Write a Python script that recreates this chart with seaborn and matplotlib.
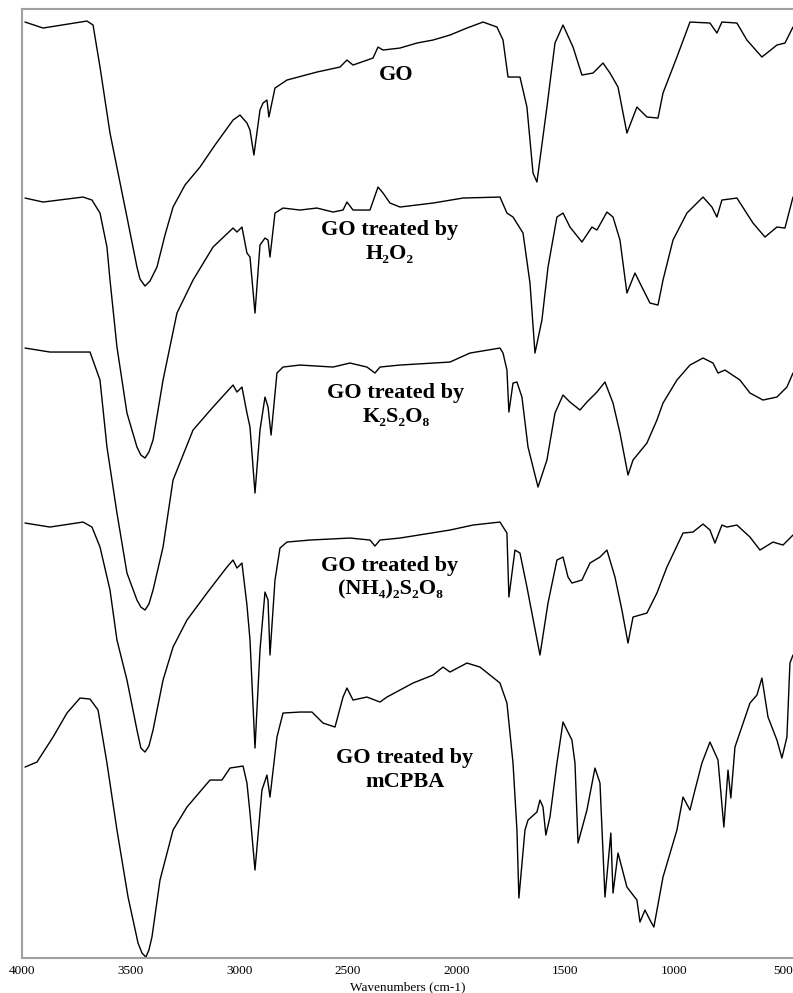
import numpy as np
import pandas as pd
import matplotlib
matplotlib.use("Agg")
import matplotlib.pyplot as plt
from matplotlib.ticker import MultipleLocator
import seaborn as sns

# FTIR spectra (wavenumber in cm-1, offset transmittance in arbitrary units)
go_wn = [3986, 3903, 3701, 3673, 3641, 3595, 3517, 3471, 3457, 3434, 3411, 3379, 3342, 3305,
         3250, 3181, 3112, 3029, 2997,
         2965, 2951, 2933, 2905, 2891, 2873, 2864, 2836, 2781, 2643, 2537, 2505, 2477, 2385,
         2362, 2339, 2261, 2183, 2109, 2031, 1953, 1879, 1815, 1787, 1764, 1709, 1677, 1649,
         1631, 1585, 1548, 1511, 1465, 1424, 1373, 1327, 1295, 1258, 1217, 1171, 1125, 1074,
         1051, 987, 927, 835, 803, 780, 711, 665, 596, 527, 490, 453]
go_t = [936, 930, 937, 933, 891, 825, 741, 691, 679, 672, 677, 691, 723, 751,
        773, 791, 813, 838, 843,
        835, 828, 803, 848, 855, 858, 841, 870, 878, 886, 891, 898, 893, 900,
        911, 908, 910, 915, 918, 923, 930, 936, 931, 918, 881, 881, 851, 785,
        776, 851, 915, 933, 911, 883, 885, 895, 885, 871, 825, 851, 841, 840,
        865, 901, 936, 935, 925, 936, 935, 918, 901, 913, 915, 931]

h2o2_wn = [3986, 3903, 3719, 3678, 3641, 3609, 3595, 3563, 3517, 3471, 3453, 3434, 3416, 3397,
           3351, 3287,
           3213, 3121, 3029, 3011, 2988, 2965, 2951, 2928, 2905, 2882, 2868, 2859, 2836, 2799,
           2721, 2643, 2569, 2523, 2505, 2477, 2399, 2362, 2339, 2307, 2261, 2109, 1971, 1801,
           1769, 1741, 1695, 1663, 1640, 1608, 1580, 1539, 1511, 1479, 1424, 1378, 1355, 1309,
           1281, 1249, 1217, 1180, 1148, 1111, 1074, 1051, 1005, 941, 867, 826, 803, 780,
           711, 637, 582, 527, 490, 453]
h2o2_t = [760, 756, 761, 758, 745, 711, 678, 611, 545, 511, 503, 500, 506, 518,
          578, 645,
          678, 711, 730, 726, 731, 705, 701, 645, 713, 720, 718, 701, 745, 750,
          748, 750, 746, 748, 756, 748, 748, 771, 765, 755, 751, 755, 760, 761,
          745, 741, 725, 675, 605, 638, 691, 741, 745, 731, 716, 731, 728, 746,
          741, 718, 665, 685, 671, 655, 653, 678, 718, 745, 761, 751, 741, 758,
          760, 735, 721, 731, 730, 761]

k2s2o8_wn = [3986, 3871, 3719, 3687, 3641, 3609, 3563, 3517, 3471, 3453, 3434, 3416, 3397, 3351,
             3305, 3213,
             3121, 3029, 3011, 2988, 2965, 2951, 2928, 2905, 2882, 2868, 2854, 2827, 2799, 2721,
             2569, 2491, 2413, 2376, 2353, 2261, 2031, 1939, 1801, 1787, 1769, 1760, 1741, 1723,
             1700, 1672, 1626, 1585, 1548, 1511, 1479, 1433, 1401, 1355, 1318, 1281, 1249, 1212,
             1189, 1125, 1079, 1051, 987, 927, 867, 821, 798, 766, 697, 651, 591, 527, 481, 453]
k2s2o8_t = [610, 606, 606, 606, 578, 511, 445, 385, 358, 351, 348, 354, 368, 411,
            478, 528,
            551, 573, 566, 571, 545, 531, 465, 528, 561, 551, 523, 585, 591, 593,
            591, 595, 591, 585, 591, 593, 596, 605, 610, 605, 588, 546, 575, 576,
            561, 511, 471, 498, 545, 563, 556, 548, 556, 566, 576, 555, 525, 483,
            498, 515, 538, 555, 578, 593, 600, 595, 585, 588, 578, 565, 558, 561, 571, 585]

nh4_wn = [3986, 3871, 3719, 3678, 3641, 3595, 3563, 3517, 3471, 3453, 3434, 3416, 3397, 3351,
          3305, 3241,
          3149, 3057, 3029, 3011, 2988, 2965, 2951, 2928, 2905, 2882, 2868, 2859, 2836, 2813,
          2781, 2675, 2491, 2399, 2376, 2353, 2261, 2031, 1925, 1801, 1769, 1760, 1732, 1709,
          1677, 1617, 1580, 1539, 1511, 1488, 1470, 1424, 1387, 1341, 1309, 1272, 1240, 1212,
          1189, 1125, 1079, 1033, 959, 913, 867, 835, 812, 780, 757, 711, 651, 605, 545, 499, 453]
nh4_t = [435, 431, 436, 431, 411, 368, 318, 278, 228, 210, 206, 212, 228, 278,
         311, 338,
         365, 391, 398, 390, 395, 353, 318, 210, 308, 366, 358, 303, 378, 410,
         416, 418, 420, 418, 412, 418, 420, 428, 433, 436, 425, 361, 408, 405,
         371, 303, 355, 398, 401, 381, 375, 378, 395, 401, 408, 381, 348, 315,
         341, 345, 365, 391, 425, 426, 434, 428, 415, 433, 431, 433, 421, 408, 416, 413, 423]

mcpba_wn = [3986, 3931, 3857, 3793, 3733, 3687, 3650, 3609, 3563, 3512, 3466, 3448, 3430, 3416,
            3402, 3365,
            3305, 3241, 3135, 3080, 3043, 2983, 2965, 2951, 2928, 2896, 2873, 2859, 2827, 2799,
            2721, 2666, 2615, 2560, 2523, 2505, 2477, 2413, 2353, 2321, 2261, 2201, 2109, 2063,
            2031, 1953, 1893, 1801, 1769, 1741, 1723, 1714, 1686, 1672, 1631, 1617, 1603, 1590,
            1571, 1539, 1511, 1470, 1456, 1442, 1401, 1364, 1341, 1318, 1291, 1281, 1258, 1217,
            1171, 1157, 1134, 1111, 1093, 1051, 987, 959, 927, 904, 872, 835, 798, 771,
            752, 739, 720, 651, 619, 596, 568, 527, 504, 481, 467, 453]
mcpba_t = [191, 196, 221, 245, 260, 259, 248, 195, 128, 61, 15, 5, 1, 8,
           21, 78,
           128, 151, 178, 178, 190, 192, 175, 145, 88, 168, 183, 161, 221, 245,
           246, 246, 235, 231, 261, 270, 258, 261, 256, 261, 268, 275, 283, 291,
           286, 295, 291, 275, 255, 195, 128, 60, 128, 138, 146, 158, 151, 123,
           141, 195, 236, 218, 195, 115, 148, 190, 175, 61, 125, 65, 105, 71,
           58, 36, 48, 38, 31, 81, 128, 161, 148, 168, 195, 216, 198, 131,
           188, 160, 211, 255, 263, 280, 241, 218, 200, 221, 295, 303]

labels = ["GO", "GO treated by\nH\u2082O\u2082", "GO treated by\nK\u2082S\u2082O\u2088",
          "GO treated by\n(NH\u2084)\u2082S\u2082O\u2088", "GO treated by\nmCPBA"]
label_wn = [2280, 2307, 2280, 2307, 2238]
label_t = [883, 716, 553, 380, 188]

series = [(go_wn, go_t), (h2o2_wn, h2o2_t), (k2s2o8_wn, k2s2o8_t),
          (nh4_wn, nh4_t), (mcpba_wn, mcpba_t)]

sns.set_style("white")
plt.rcParams['font.family'] = ['Liberation Serif', 'DejaVu Serif']
plt.rcParams['text.color'] = 'black'
plt.rcParams['axes.labelcolor'] = 'black'

fig = plt.figure(figsize=(7.93, 9.93), dpi=100)
ax = fig.add_axes([0.0277, 0.0352, 0.9723, 0.9557])

for (wn, t), name in zip(series, labels):
    df = pd.DataFrame({'wn': wn, 'T': t})
    sns.lineplot(data=df, x='wn', y='T', sort=False, estimator=None,
                 color='black', linewidth=1.0, ax=ax)

for name, xw, yt in zip(labels, label_wn, label_t):
    ax.text(xw, yt, name, ha='center', va='center', fontsize=16,
            fontweight='bold', linespacing=1.25, color='black')

ax.set_xlim(4000, 453)
ax.set_ylim(0, 949)
ax.set_yticks([])
ax.set_ylabel('')
ax.xaxis.set_major_locator(MultipleLocator(500))
ax.xaxis.set_minor_locator(MultipleLocator(100))
ax.tick_params(axis='x', which='both', direction='in', colors='#9a9a9a',
               labelcolor='black', labelsize=9.5, length=4, width=1, pad=5)
ax.tick_params(axis='x', which='minor', length=3)
ax.set_xlabel('Wavenumbers (cm-1)', fontsize=9.5, labelpad=3, color='black')

for side in ['left', 'top', 'bottom']:
    ax.spines[side].set_color('#a0a0a0')
    ax.spines[side].set_linewidth(1.5)
ax.spines['right'].set_visible(False)

fig.savefig('out.png', dpi=100)
